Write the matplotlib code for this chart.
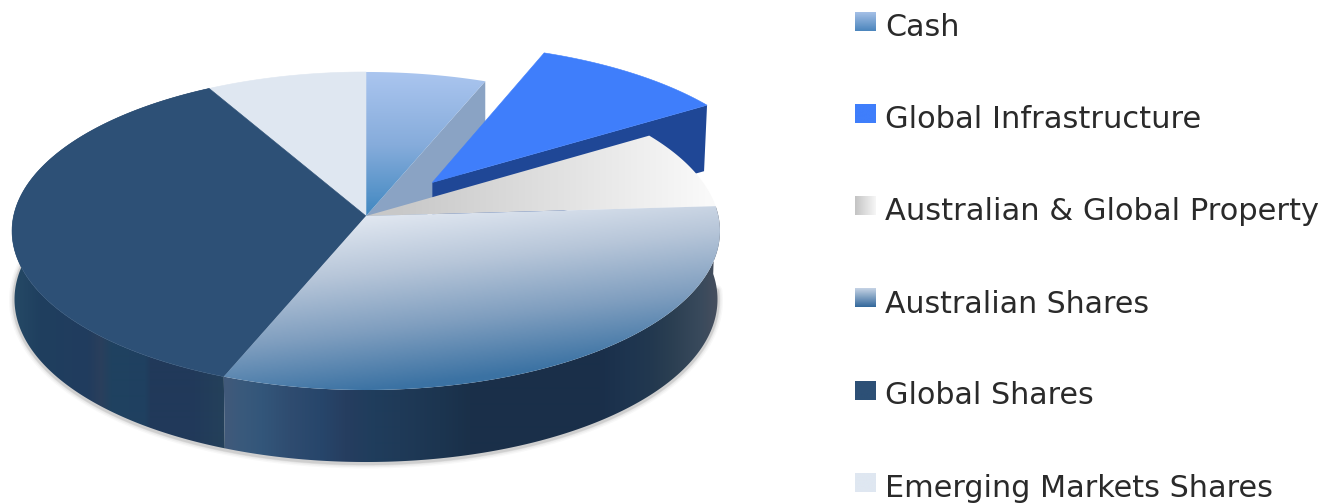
import numpy as np
import matplotlib
matplotlib.use("Agg")
import matplotlib.pyplot as plt
from matplotlib.patches import Polygon
from matplotlib.colors import LinearSegmentedColormap, to_rgb

labels = ["Cash", "Global Infrastructure", "Australian & Global Property",
          "Australian Shares", "Global Shares", "Emerging Markets Shares"]
values = [6, 10, 8, 32, 36, 8]
explode = [0, 0.29, 0, 0, 0, 0]
label_sizes = [21.7, 22.0, 22.0, 21.6, 21.7, 21.75]

W, H = 1324, 504
CX, CY = 366, 216          # screen position of the pie centre
SX, SY, PERSP = 352.4, 157.6, 0.0943
EXPLODE_DIR = 41.5         # bearing of the pulled-out slice, degrees


def project(u, v):
    """Perspective projection of the unit-disc plane onto the canvas."""
    d = 1 + PERSP * v
    return CX + SX * u / d, CY - SY * v / d


def rim(a_deg, off=(0.0, 0.0)):
    a = np.radians(a_deg)
    return project(off[0] + np.sin(a), off[1] + np.cos(a))


def depth(v):
    return 68 - 4 * v


def wedge_outline(a0, a1, off=(0.0, 0.0), n=120):
    angs = np.linspace(a0, a1, n)
    xs, ys = rim(angs, off)
    cx, cy = project(*off)
    return np.column_stack([np.r_[cx, xs], np.r_[cy, ys]])


def cmap(stops):
    return LinearSegmentedColormap.from_list("c", stops)


fig = plt.figure(figsize=(W / 100, H / 100), dpi=100)
ax = fig.add_axes([0, 0, 1, 1])
ax.set_axis_off()

bounds = np.r_[0, np.cumsum(values)] * 3.6
angles = dict(zip(labels, zip(bounds[:-1], bounds[1:])))
offset = {}
for lab, ex in zip(labels, explode):
    d = np.radians(EXPLODE_DIR)
    offset[lab] = (ex * np.sin(d), ex * np.cos(d))

gx, gy = np.meshgrid(np.arange(0, W, 2.0), np.arange(0, H, 2.0))


def fill_gradient(outline, field, stops, z):
    poly = Polygon(outline, closed=True, transform=ax.transData, fc="none", ec="none")
    ax.add_patch(poly)
    im = ax.imshow(np.clip(field, 0, 1), extent=(0, W, H, 0), cmap=cmap(stops),
                   vmin=0, vmax=1, aspect="auto", zorder=z, interpolation="bilinear")
    im.set_clip_path(poly)
    return im


def rim_wall(a0, a1, xstops, cols, z):
    """Outer wall of a slice, shaded in bands running left to right."""
    angs = np.linspace(a0, a1, 200)
    tx, ty = rim(angs)
    bx = tx * 0.993 + CX * 0.007
    by = ty + depth(np.cos(np.radians(angs)))
    outline = np.column_stack([np.r_[tx, bx[::-1]], np.r_[ty, by[::-1]]])
    rgb = np.array([to_rgb(c) for c in cols])
    columns = np.arange(0, W, 1.0)
    band = np.stack([np.interp(columns, xstops, rgb[:, i]) for i in range(3)], axis=-1)
    poly = Polygon(outline, closed=True, transform=ax.transData, fc="none", ec="none")
    ax.add_patch(poly)
    im = ax.imshow(band[None, :, :], extent=(0, W, H, 0), aspect="auto", zorder=z,
                   interpolation="bilinear")
    im.set_clip_path(poly)


# soft shadow hugging the lower edge of the disc
a_sh = np.linspace(92, 318, 300)
sx, sy = rim(a_sh)
sy = sy + depth(np.cos(np.radians(a_sh)))
sx = sx * 0.993 + CX * 0.007
for lw, al in [(8, 0.04), (6, 0.06), (4, 0.09), (3, 0.12)]:
    ax.plot(sx, sy + 1, color="#555555", lw=lw, alpha=al, zorder=1,
            solid_capstyle="round")

# outer walls of the two large slices
a0, a1 = angles["Australian Shares"]
rim_wall(a0, a1,
         [225, 240, 262, 290, 320, 345, 375, 400, 440, 470, 600, 630, 650, 672, 700, 718],
         ["#41597a", "#3a5a7c", "#33567a", "#2f4c70", "#27466b", "#263e60", "#1f3d5c",
          "#1f3a58", "#1c3550", "#1a3049", "#1a2f4a", "#1e3550", "#22384f", "#2b3f52",
          "#394a5c", "#474f5e"], 2)
a0, a1 = angles["Global Shares"]
rim_wall(a0, a1,
         [12, 40, 88, 100, 112, 145, 150, 190, 222],
         ["#264a66", "#1f3f5f", "#213c5e", "#2a3f5c", "#1f4260", "#1f4060",
          "#213a5a", "#21395a", "#24405a"], 2)

# radial wall of the cash slice
rx, ry = rim(angles["Cash"][1])
ax.add_patch(Polygon([(CX, CY), (rx, ry), (rx, ry + 68), (CX, CY + 68)], closed=True,
                     fc="#8aa3c4", ec="none", zorder=3))

# flat and shaded top faces
lab = "Cash"
fill_gradient(wedge_outline(*angles[lab]), (gy - 72) / 144,
              ["#aac5ef", "#86acdb", "#3f87c0"], 4)
lab = "Emerging Markets Shares"
ax.add_patch(Polygon(wedge_outline(*angles[lab]), closed=True,
                     fc="#dfe7f1", ec="#dfe7f1", lw=0.4, zorder=4))
lab = "Global Shares"
ax.add_patch(Polygon(wedge_outline(*angles[lab]), closed=True,
                     fc="#2d5076", ec="#2d5076", lw=0.4, zorder=4))

# exploded slice: straight wall first, other faces sit over it
lab = "Global Infrastructure"
off = offset[lab]
tip = project(*off)
ex_, ey_ = rim(angles[lab][1], off)
ax.add_patch(Polygon([tip, (ex_, ey_), (ex_ - 3, ey_ + 66), (tip[0], tip[1] + 66)],
                     closed=True, fc="#1f4796", ec="none", zorder=5))

lab = "Australian & Global Property"
fill_gradient(wedge_outline(*angles[lab]), (gx - 395) / 310,
              ["#c8c8c8", "#e0e0e0", "#f9f9f9"], 6)
lab = "Australian Shares"
fill_gradient(wedge_outline(*angles[lab]),
              (gy - 212 + 0.12 * (gx - CX)) / 178,
              ["#e3e9f2", "#b7c6d9", "#7f9ebf", "#3b72a3"], 7)

lab = "Global Infrastructure"
ax.add_patch(Polygon(wedge_outline(*angles[lab], off=off), closed=True,
                     fc="#3f7efb", ec="#3f7efb", lw=0.4, zorder=8))

# legend
swatch_maps = {
    "Cash": ["#a4bfe6", "#4c86bd"],
    "Global Infrastructure": ["#3f7efb", "#3f7efb"],
    "Australian & Global Property": ["#c4c4c4", "#f6f6f6"],
    "Australian Shares": ["#c4d2e4", "#34699c"],
    "Global Shares": ["#2d5076", "#2d5076"],
    "Emerging Markets Shares": ["#dfe7f1", "#dfe7f1"],
}
tops = [12, 104, 196, 288, 381, 473]
baselines = [36, 128, 220, 313, 404, 497]
for lab, top, base, size in zip(labels, tops, baselines, label_sizes):
    stops = swatch_maps[lab]
    if lab.startswith("Australian &"):
        grad = np.linspace(0, 1, 32)[None, :]
    else:
        grad = np.linspace(0, 1, 32)[:, None]
    ax.imshow(grad, extent=(855, 876, top + 19, top), cmap=cmap(stops), vmin=0, vmax=1,
              aspect="auto", zorder=9, interpolation="bilinear")
    ax.text(885, base, lab, fontsize=size, family="DejaVu Sans", color="#2a2a2a",
            ha="left", va="baseline", zorder=10)

ax.set_xlim(0, W)
ax.set_ylim(H, 0)
fig.savefig("out.png", dpi=100, facecolor="white")
